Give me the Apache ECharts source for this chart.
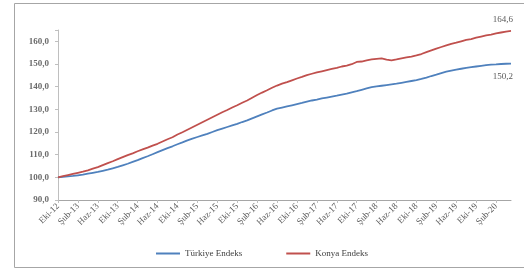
<!DOCTYPE html>
<html>
<head>
<meta charset="utf-8">
<script src="https://cdn.jsdelivr.net/npm/echarts@6/dist/echarts.min.js"></script>
<style>
  html, body { margin: 0; padding: 0; background: #fff; }
  #chart { width: 524px; height: 271px; }
</style>
</head>
<body>
<div id="chart"></div>
<script>
// aylar (Eki-12 .. May-20)
var monthNames = ['Oca', 'Şub', 'Mar', 'Nis', 'May', 'Haz', 'Tem', 'Ağu', 'Eyl', 'Eki', 'Kas', 'Ara'];
var startYear = 2012, startMonth = 9, monthCount = 92;
var categories = [];
for (var i = 0; i < monthCount; i++) {
  var m = (startMonth + i) % 12;
  var y = startYear + Math.floor((startMonth + i) / 12);
  categories.push(monthNames[m] + '-' + String(y).slice(2));
}

// Türkiye Endeks
var turkiye = [
  100.0, 100.2, 100.4, 100.6, 100.9, 101.2, 101.6,
  102.0, 102.4, 102.9, 103.4, 104.0, 104.6, 105.3,
  106.0, 106.8, 107.6, 108.5, 109.3, 110.2, 111.1,
  112.0, 112.9, 113.7, 114.6, 115.4, 116.3,
  117.1, 117.8, 118.5, 119.2, 120.0,
  120.8, 121.5, 122.2, 122.9, 123.6, 124.4, 125.1,
  126.0, 126.9, 127.8, 128.6, 129.5, 130.3,
  130.8, 131.3, 131.8, 132.3, 132.8, 133.4, 133.9,
  134.3, 134.8, 135.2, 135.6, 136.0, 136.5, 136.9,
  137.5, 138.0, 138.6, 139.2, 139.8,
  140.1, 140.4, 140.7, 141.0, 141.3, 141.7, 142.1, 142.5, 142.9, 143.4,
  144.0, 144.7, 145.3, 146.0, 146.6, 147.1,
  147.5, 147.9, 148.3, 148.6, 148.9, 149.2, 149.5,
  149.7, 149.8, 150.0, 150.1, 150.2
];

// Konya Endeks
var konya = [
  100.0, 100.5, 101.0, 101.5, 102.0, 102.5, 103.1,
  103.8, 104.5, 105.4, 106.3, 107.1, 108.0, 108.9,
  109.8, 110.6, 111.5, 112.3, 113.1, 114.0, 114.8,
  115.8, 116.8, 117.7, 118.9, 119.9, 121.0,
  122.1, 123.2, 124.3, 125.4, 126.5,
  127.6, 128.7, 129.7, 130.8, 131.8, 132.9, 133.9,
  135.1, 136.3, 137.4, 138.4, 139.5, 140.5,
  141.3, 142.0, 142.8, 143.6, 144.3, 145.1, 145.7,
  146.3, 146.8, 147.3, 147.8, 148.3, 148.9, 149.3,
  149.9, 150.9, 151.1, 151.6, 152.0,
  152.3, 152.5, 151.9, 151.6, 152.0, 152.5, 152.9, 153.3, 153.8, 154.4,
  155.2, 156.0, 156.8, 157.5, 158.2, 158.9,
  159.4, 160.0, 160.6, 161.0, 161.6, 162.1, 162.6,
  163.0, 163.5, 163.9, 164.3, 164.6
];

var seriesNames = ['Türkiye Endeks', 'Konya Endeks'];

function fmt(v) {
  return v.toFixed(1).replace('.', ',');
}

// son noktaya etiket
function withEndLabel(arr, pos) {
  return arr.map(function (v, i) {
    if (i < arr.length - 1) return v;
    return {
      value: v,
      label: {
        show: true,
        position: pos,
        align: 'right',
        offset: [2, pos === 'top' ? -2 : 4],
        formatter: function (p) { return fmt(p.value); },
        fontFamily: 'Liberation Serif',
        fontSize: 9,
        color: '#595959'
      }
    };
  });
}

var chart = echarts.init(document.getElementById('chart'));
var option = {
  animation: false,
  textStyle: { fontFamily: 'Liberation Serif' },
  graphic: [{
    type: 'rect',
    shape: { x: 14.5, y: 3.5, width: 520, height: 264 },
    style: { fill: 'none', stroke: '#a6a6a6', lineWidth: 1 },
    silent: true
  }],
  grid: { left: 58, right: 13, top: 30, bottom: 71 },
  legend: {
    bottom: 8,
    left: 'center',
    itemWidth: 24,
    itemHeight: 2,
    itemGap: 44,
    icon: 'rect',
    textStyle: { fontFamily: 'Liberation Serif', fontSize: 9, color: '#404040' },
    data: seriesNames
  },
  xAxis: {
    type: 'category',
    data: categories,
    boundaryGap: false,
    axisLine: { lineStyle: { color: '#a6a6a6' } },
    axisTick: { show: true, interval: 3, length: 3, lineStyle: { color: '#bfbfbf' } },
    axisLabel: {
      interval: 3,
      rotate: 45,
      fontFamily: 'Liberation Serif',
      fontSize: 9,
      color: '#595959',
      margin: 5
    },
    splitLine: { show: false }
  },
  yAxis: {
    type: 'value',
    min: 90,
    max: 165,
    interval: 10,
    axisLine: { show: true, lineStyle: { color: '#bfbfbf' } },
    axisTick: { show: true, length: 3, lineStyle: { color: '#bfbfbf' } },
    axisLabel: {
      formatter: function (v) { return v % 10 === 0 ? fmt(v) : ''; },
      fontFamily: 'Liberation Serif',
      fontSize: 9,
      fontWeight: 'bold',
      color: '#6b6b6b',
      margin: 9
    },
    splitLine: { show: false }
  },
  series: [
    {
      name: seriesNames[0],
      type: 'line',
      data: withEndLabel(turkiye, 'bottom'),
      symbol: 'circle',
      symbolSize: 0,
      showAllSymbol: true,
      lineStyle: { color: '#4f81bd', width: 1.8 },
      itemStyle: { color: '#4f81bd' }
    },
    {
      name: seriesNames[1],
      type: 'line',
      data: withEndLabel(konya, 'top'),
      symbol: 'circle',
      symbolSize: 0,
      showAllSymbol: true,
      lineStyle: { color: '#c0504d', width: 1.8 },
      itemStyle: { color: '#c0504d' }
    }
  ]
};
chart.setOption(option);

window.addEventListener('resize', function () {
  chart.resize();
});
</script>
</body>
</html>
